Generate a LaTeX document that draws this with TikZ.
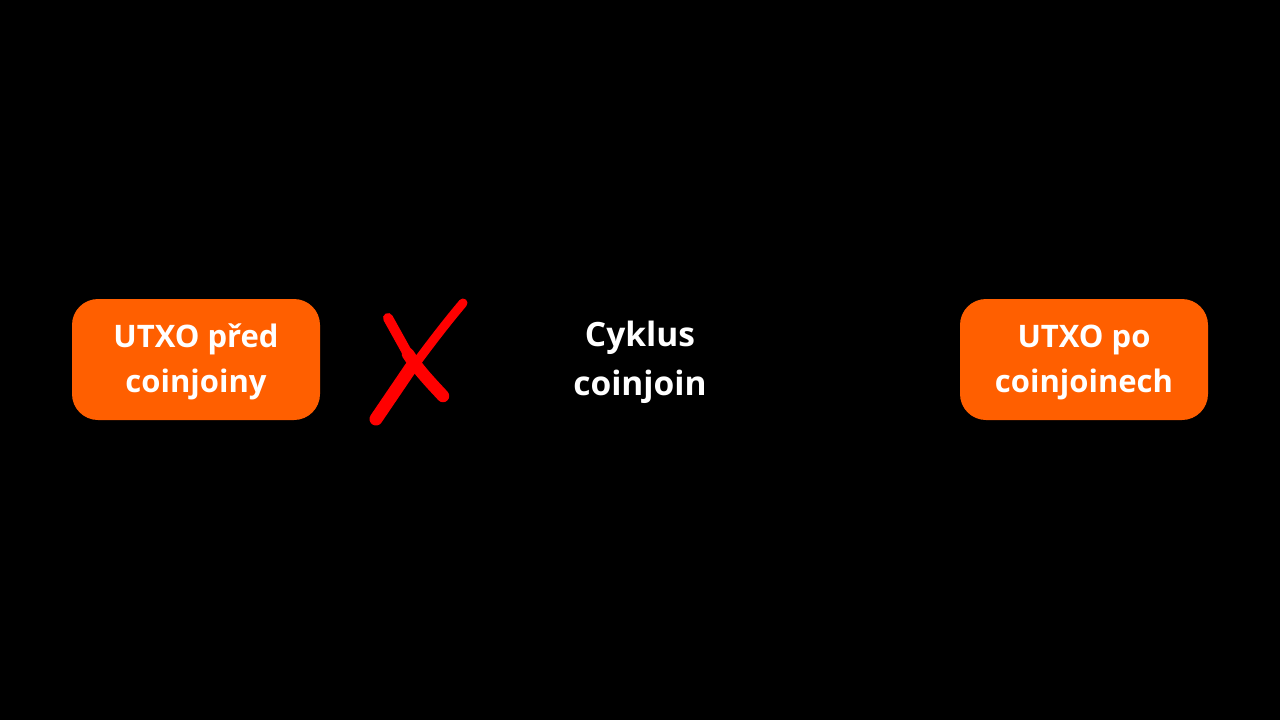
\documentclass[tikz,border=0pt]{standalone}
\usepackage{fontspec}
\setmainfont{Open Sans}
\definecolor{boxorange}{HTML}{FF5F00}
\definecolor{xred}{HTML}{FF0000}
\begin{document}
\begin{tikzpicture}[x=1pt,y=-1pt,
  utxo/.style={fill=boxorange, rounded corners=26pt, minimum width=248pt, minimum height=121pt, inner sep=0pt},
  boxtext/.style={text=white, inner sep=0pt, font=\fontsize{31}{45}\selectfont\bfseries, align=center},
  label/.style={text=white, inner sep=0pt, font=\fontsize{33.5}{49}\selectfont\bfseries, align=center},
  stroke/.style={draw=xred, line cap=round, line join=round}]
\fill[black] (0,0) rectangle (1280,720);
\useasboundingbox (0,0) rectangle (1280,720);
\node[utxo] (before) at (196,359.5) {};
\node[utxo] (after) at (1084,359.5) {};
\node[boxtext] (beforetext) at ([yshift=-2.5pt]before.center) {UTXO před\\coinjoiny};
\node[boxtext] (aftertext) at ([yshift=-2.5pt]after.center) {UTXO po\\coinjoinech};
\node[label] (cycle) at (640,362) {Cyklus\\coinjoin};
\coordinate (a1) at (376,419);
\coordinate (am) at (412,366);
\coordinate (a2) at (463,303);
\coordinate (b1) at (388,318);
\coordinate (bm) at (408,354);
\coordinate (b2) at (443,396);
\draw[stroke, line width=9pt] (a1) .. controls (395,392) and (430,342) .. (a2);
\draw[stroke, line width=13pt] (a1) -- (am);
\draw[stroke, line width=10pt] (b1) -- (bm);
\draw[stroke, line width=12.5pt] (bm) .. controls (420,372) and (432,384) .. (b2);
\end{tikzpicture}
\end{document}
